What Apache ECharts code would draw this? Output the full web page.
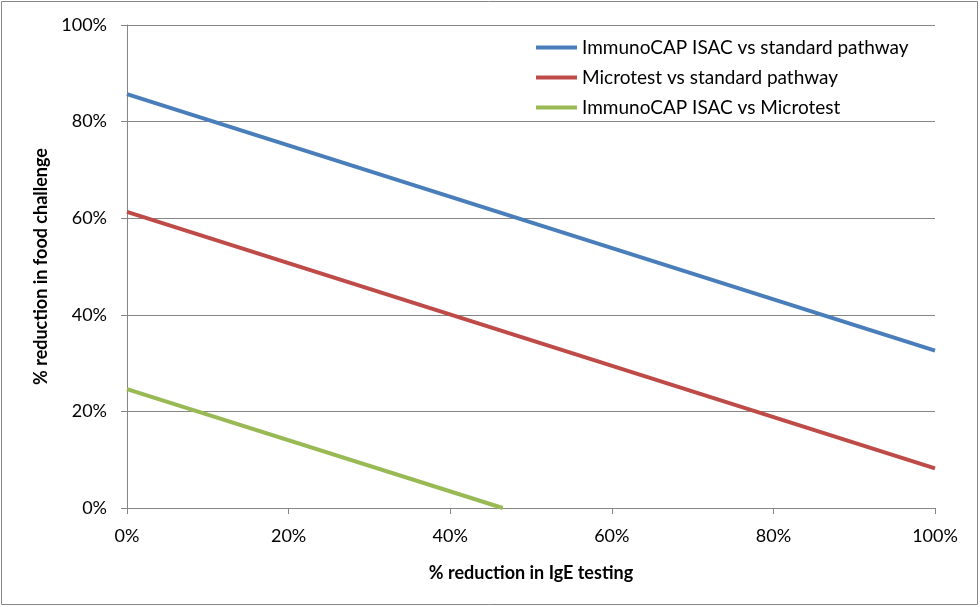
<!DOCTYPE html>
<html><head><meta charset="utf-8">
<script src="https://cdn.jsdelivr.net/npm/echarts@6/dist/echarts.min.js"></script>
<style>html,body{margin:0;padding:0;background:#fff}#c{width:980px;height:607px}</style>
</head><body><div id="c"></div>
<script>
const seriesNames = ["ImmunoCAP ISAC vs standard pathway","Microtest vs standard pathway","ImmunoCAP ISAC vs Microtest"];
const isacVsStdX = [0, 100];
const isacVsStdY = [85.7, 32.6];
const microVsStdX = [0, 100];
const microVsStdY = [61.3, 8.2];
const isacVsMicroX = [0, 46.5];
const isacVsMicroY = [24.6, 0];
const colors = ["#4a7ebb","#be4b48","#98b954"];
const font = "Lato, 'Open Sans', sans-serif";
const zip = (xs, ys) => xs.map((x,i)=>[x, ys[i]]);
const chart = echarts.init(document.getElementById('c'), null, {renderer:'canvas'});
chart.setOption({
  animation:false,
  graphic:[{type:'rect',shape:{x:1.5,y:1.5,width:976,height:603},style:{fill:'none',stroke:'#868686',lineWidth:1}}],
  grid:{left:127,right:45,top:25,bottom:99,containLabel:false},
  legend:{
    data:seriesNames, orient:'vertical', left:531, top:33, itemWidth:41, itemHeight:4, itemGap:11,
    icon:'rect',
    textStyle:{fontFamily:font,fontSize:19,color:'#000'}
  },
  xAxis:{type:'value',min:0,max:100,interval:20,
    name:'% reduction in IgE testing',nameLocation:'middle',nameGap:56,
    nameTextStyle:{fontFamily:font,fontSize:18,fontWeight:'bold',color:'#000'},
    axisLine:{lineStyle:{color:'#868686',width:1}},
    axisTick:{show:true,length:6,lineStyle:{color:'#868686'}},
    axisLabel:{formatter:'{value}%',fontFamily:font,fontSize:18,color:'#000',margin:19},
    splitLine:{show:false}},
  yAxis:{type:'value',min:0,max:100,interval:20,
    name:'% reduction in food challenge',nameLocation:'middle',nameGap:77,
    nameTextStyle:{fontFamily:font,fontSize:18,fontWeight:'bold',color:'#000'},
    axisLine:{show:true,lineStyle:{color:'#868686',width:1}},
    axisTick:{show:true,length:6,lineStyle:{color:'#868686'}},
    axisLabel:{formatter:'{value}%',fontFamily:font,fontSize:18,color:'#000',margin:20},
    splitLine:{show:true,lineStyle:{color:'#868686',width:1}}},
  series:[
    {name:seriesNames[0],type:'line',data:zip(isacVsStdX,isacVsStdY),showSymbol:false,lineStyle:{width:4,color:colors[0]},itemStyle:{color:colors[0]}},
    {name:seriesNames[1],type:'line',data:zip(microVsStdX,microVsStdY),showSymbol:false,lineStyle:{width:4,color:colors[1]},itemStyle:{color:colors[1]}},
    {name:seriesNames[2],type:'line',data:zip(isacVsMicroX,isacVsMicroY),showSymbol:false,lineStyle:{width:4,color:colors[2]},itemStyle:{color:colors[2]}}
  ]
});
</script></body></html>
